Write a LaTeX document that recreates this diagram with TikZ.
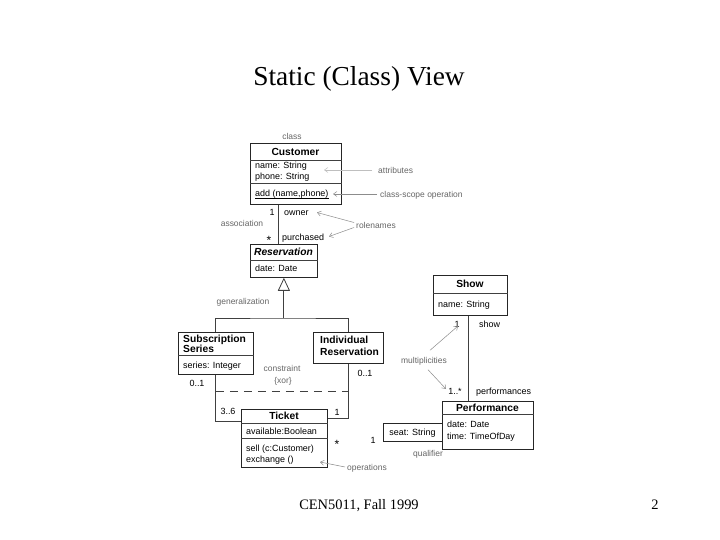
\documentclass[tikz,border=0pt]{standalone}
\usepackage{fontspec}
\setmainfont{Liberation Serif}
\newfontfamily\umlfont{Liberation Sans}
\usetikzlibrary{arrows.meta}
\begin{document}
\begin{tikzpicture}[x=1bp,y=-1bp,
  cls/.style={draw=black!85, line width=0.75bp, inner sep=0, anchor=north west},
  sep/.style={draw=black!75, line width=0.6bp},
  ttl/.style={font=\umlfont\bfseries\fontsize{10.3}{12}\selectfont, inner sep=0, text height=7.9bp, text depth=0.5bp},
  ttlw/.style={ttl, anchor=west},
  txt/.style={font=\umlfont\fontsize{9}{10.5}\selectfont, inner sep=0, anchor=west, text height=7bp, text depth=0.5bp},
  ann/.style={font=\umlfont\fontsize{8.5}{10}\selectfont, text=black!60, inner sep=0, text height=6.6bp, text depth=0.4bp},
  annw/.style={ann, anchor=west},
  mult/.style={font=\umlfont\fontsize{9}{10}\selectfont, inner sep=0, text height=7bp, text depth=0.5bp},
  star/.style={font=\umlfont\fontsize{12}{12}\selectfont, inner sep=0},
  assoc/.style={draw=black!75, line width=0.8bp},
  pointer/.style={draw=black!45, line width=0.5bp, -{Straight Barb[length=3.5bp,width=5bp]}},
]
\useasboundingbox[fill=white] (0,0) rectangle (720,540);

% title and footer
\node[font=\fontsize{27.5}{30}\selectfont, anchor=base, inner sep=0] (title) at (359,86) {Static (Class) View};
\node[font=\fontsize{14.5}{16}\selectfont, anchor=base, inner sep=0] (footer) at (359,509) {CEN5011, Fall 1999};
\node[font=\fontsize{14.5}{16}\selectfont, anchor=base, inner sep=0] (page) at (655,509) {2};

% Customer
\node[cls, minimum width=91bp, minimum height=61bp] (cust) at (250,143) {};
\draw[sep] ([yshift=-17bp]cust.north west) -- ([yshift=-17bp]cust.north east);
\draw[sep] ([yshift=-40bp]cust.north west) -- ([yshift=-40bp]cust.north east);
\node[ttl] (custT) at (295.5,151.5) {Customer};
\node[txt] (custA1) at (255,165.5) {name: String};
\node[txt] (custA2) at (255,176) {phone: String};
\node[txt] (custO) at (255,193.5) {add (name,phone)};
\draw[black, line width=0.5bp] ([yshift=-1.3bp]custO.base west) -- ([yshift=-1.3bp]custO.base east);
\node[ann] (classL) at (292,136) {class};

% Reservation
\node[cls, minimum width=67bp, minimum height=33bp] (res) at (250,244) {};
\draw[sep] ([yshift=-16bp]res.north west) -- ([yshift=-16bp]res.north east);
\node[ttl] (resT) at (283.5,252) {\itshape Reservation};
\node[txt] (resA) at (255,268.5) {date: Date};

% Subscription Series
\node[cls, minimum width=75bp, minimum height=42bp] (sub) at (178,332) {};
\draw[sep] ([yshift=-23bp]sub.north west) -- ([yshift=-23bp]sub.north east);
\node[ttlw] (subT1) at (183,338.5) {Subscription};
\node[ttlw] (subT2) at (183,348.5) {Series};
\node[txt] (subA) at (183,365) {series: Integer};

% Individual Reservation
\node[cls, minimum width=70bp, minimum height=31bp] (ind) at (313,332) {};
\node[ttlw] (indT1) at (320,340) {Individual};
\node[ttlw] (indT2) at (320,352) {Reservation};

% Show
\node[cls, minimum width=74bp, minimum height=40bp] (show) at (433,275) {};
\draw[sep] ([yshift=-18bp]show.north west) -- ([yshift=-18bp]show.north east);
\node[ttl] (showT) at (470,283.5) {Show};
\node[txt] (showA) at (438,304) {name: String};

% Performance
\node[cls, minimum width=91bp, minimum height=48bp] (perf) at (442,401) {};
\draw[sep] ([yshift=-13bp]perf.north west) -- ([yshift=-13bp]perf.north east);
\node[ttl] (perfT) at (487.5,408) {Performance};
\node[txt] (perfA1) at (447,424) {date: Date};
\node[txt] (perfA2) at (447,436) {time: TimeOfDay};

% qualifier
\node[cls, minimum width=59bp, minimum height=18bp] (seat) at (383,423) {};
\node[txt, anchor=center] (seatT) at (412.5,432) {seat: String};

% Ticket
\node[cls, minimum width=86bp, minimum height=58bp] (tick) at (241,409) {};
\draw[sep] ([yshift=-14bp]tick.north west) -- ([yshift=-14bp]tick.north east);
\draw[sep] ([yshift=-29bp]tick.north west) -- ([yshift=-29bp]tick.north east);
\node[ttl] (tickT) at (284,416) {Ticket};
\node[txt] (tickA) at (246,431) {available:Boolean};
\node[txt] (tickO1) at (246,448) {sell (c:Customer)};
\node[txt] (tickO2) at (246,459) {exchange ()};

% association Customer - Reservation
\draw[assoc] ([xshift=28bp]cust.south west) -- ([xshift=28bp]res.north west);
\node[mult] (m1) at (272,212) {1};
\node[txt] (owner) at (284,212) {owner};
\node[star] (m2) at (269,240) {*};
\node[txt] (purch) at (282,237) {purchased};
\node[ann] (assocL) at (242,223) {association};

% generalization
\coordinate (gj) at (res.south |- 0,318);
\draw[assoc] (sub.north) |- (gj) -| (ind.north);
\draw[assoc, -{Triangle[open,length=13bp,width=12bp]}] (gj) -- (res.south);
\node[ann] (genL) at (243,301) {generalization};

% links to Ticket
\draw[assoc] (sub.south) |- ([yshift=-12bp]tick.north west);
\draw[assoc] (ind.south) |- ([yshift=-9bp]tick.north east);
\coordinate (xl) at (sub.south |- 0,391);
\coordinate (xr) at (ind.south |- 0,391);
\draw[assoc, dash pattern=on 8bp off 6bp] (xl) -- (xr);
\node[mult] (m3) at (197,383) {0..1};
\node[mult] (m4) at (365,373) {0..1};
\node[mult] (m5) at (228,411) {3..6};
\node[mult] (m6) at (337,412) {1};
\node[ann] (constrL) at (282,368) {constraint};
\node[ann] (xorL) at (283,380) {\{xor\}};

% Show - Performance
\draw[assoc] ([xshift=35bp]show.south west) -- ([xshift=35bp]show.south west |- perf.north);
\node[mult] (m7) at (457,324) {1};
\node[txt] (showR) at (479,324) {show};
\node[mult] (m8) at (455,391) {1..*};
\node[txt] (perfR) at (476,391) {performances};
\node[ann] (multL) at (424,360) {multiplicities};

% Ticket - qualifier multiplicities
\node[star] (m9) at (337,444) {*};
\node[mult] (m10) at (373,440) {1};
\node[ann] (qualL) at (428,453) {qualifier};

% annotations
\node[annw] (attrL) at (378,170) {attributes};
\node[annw] (csoL) at (380,194) {class-scope operation};
\node[annw] (roleL) at (356,225) {rolenames};
\node[annw] (opsL) at (347,467) {operations};

\coordinate (attrTip) at (324,170);
\coordinate (csoTip) at (333,194);
\coordinate (ownTip) at (317,212.5);
\coordinate (purTip) at (329,236.5);
\coordinate (oneTip) at (458,326);
\coordinate (manyTip) at (446,389);
\coordinate (opsTip) at (320,462);

\draw[pointer, draw=black!25] ([xshift=-6bp]attrL.west) -- (attrTip);
\draw[pointer] ([xshift=-3bp]csoL.west) -- (csoTip);
\draw[pointer] ([xshift=-2bp,yshift=2.5bp]roleL.west) -- (ownTip);
\draw[pointer] ([xshift=-2bp,yshift=-2.5bp]roleL.west) -- (purTip);
\draw[pointer] ([xshift=6bp,yshift=6bp]multL.north) -- (oneTip);
\draw[pointer] ([xshift=4bp,yshift=-6bp]multL.south) -- (manyTip);
\draw[pointer] ([xshift=-2bp]opsL.west) -- (opsTip);
\end{tikzpicture}
\end{document}
